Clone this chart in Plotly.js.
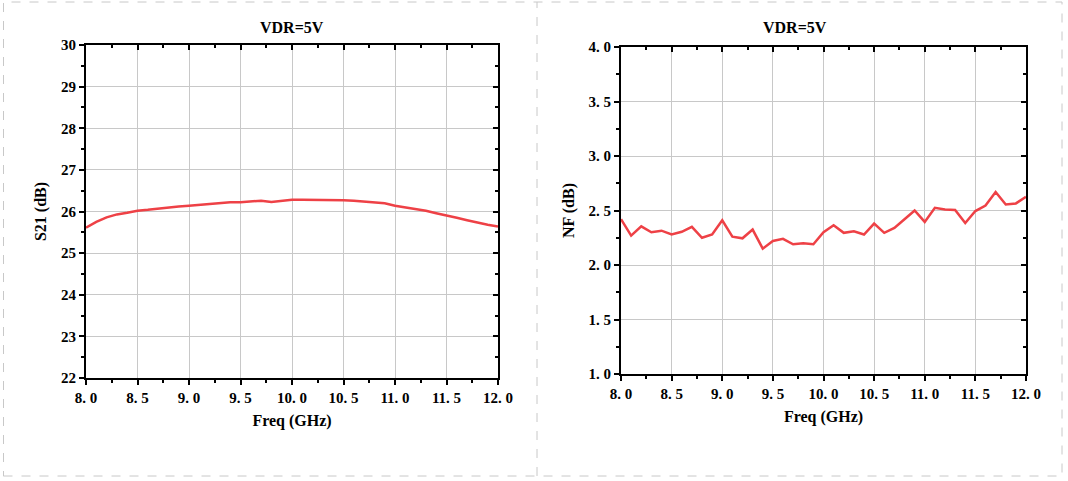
<!DOCTYPE html>
<html>
<head>
<meta charset="utf-8">
<script src="https://cdn.plot.ly/plotly-3.0.1.min.js"></script>
<style>
  html, body { margin: 0; padding: 0; background: #fff; }
  #chart { width: 1068px; height: 481px; }
</style>
</head>
<body>
<div id="chart"></div>
<script>
// frequency points, 8 to 12 GHz in 0.1 GHz steps
var freq = [8.0, 8.1, 8.2, 8.3, 8.4, 8.5, 8.6, 8.7, 8.8, 8.9,
            9.0, 9.1, 9.2, 9.3, 9.4, 9.5, 9.6, 9.7, 9.8, 9.9,
            10.0, 10.1, 10.2, 10.3, 10.4, 10.5, 10.6, 10.7, 10.8, 10.9,
            11.0, 11.1, 11.2, 11.3, 11.4, 11.5, 11.6, 11.7, 11.8, 11.9, 12.0];

var s21 = [25.61, 25.75, 25.86, 25.93, 25.97, 26.02, 26.04, 26.07, 26.09, 26.12,
           26.14, 26.16, 26.18, 26.20, 26.22, 26.22, 26.24, 26.26, 26.23, 26.26,
           26.28, 26.28, 26.28, 26.27, 26.27, 26.27, 26.26, 26.24, 26.23, 26.20,
           26.14, 26.10, 26.06, 26.02, 25.96, 25.91, 25.85, 25.79, 25.73, 25.68, 25.64];

var nf = [2.42, 2.27, 2.355, 2.30, 2.315, 2.28, 2.305, 2.35, 2.25, 2.28,
          2.41, 2.26, 2.245, 2.325, 2.15, 2.22, 2.24, 2.19, 2.20, 2.19,
          2.30, 2.365, 2.295, 2.31, 2.28, 2.38, 2.295, 2.34, 2.42, 2.50,
          2.395, 2.525, 2.51, 2.505, 2.385, 2.495, 2.545, 2.67, 2.555, 2.565, 2.625];

var freqTicks = [8, 8.5, 9, 9.5, 10, 10.5, 11, 11.5, 12];
var freqLabels = ['8. 0', '8. 5', '9. 0', '9. 5', '10. 0', '10. 5', '11. 0', '11. 5', '12. 0'];
var s21Ticks = [22, 23, 24, 25, 26, 27, 28, 29, 30];
var nfTicks = [1, 1.5, 2, 2.5, 3, 3.5, 4];
var nfLabels = ['1. 0', '1. 5', '2. 0', '2. 5', '3. 0', '3. 5', '4. 0'];

var serif = 'Liberation Serif, Times New Roman, serif';
var red = '#ee4146';

var tickFont = {family: serif, size: 15, color: '#000', weight: 'bold'};
var titleFont = {family: serif, size: 16, color: '#000', weight: 'bold'};

function mainAxis(extra) {
  var a = {
    showline: true, linecolor: '#000', linewidth: 2,
    ticks: 'outside', ticklen: 5, tickwidth: 2, tickcolor: '#000',
    showgrid: true, gridcolor: '#c8c8c8', gridwidth: 1,
    zeroline: false, tickfont: tickFont, fixedrange: true
  };
  return Object.assign(a, extra);
}

function mirrorAxis(extra) {
  var a = {
    showline: true, linecolor: '#000', linewidth: 2,
    ticks: 'inside', ticklen: 5, tickwidth: 2, tickcolor: '#000',
    showgrid: false, zeroline: false, showticklabels: false, fixedrange: true
  };
  return Object.assign(a, extra);
}

function minorTicks(step, dir) {
  return {dtick: step, ticks: dir, ticklen: 3, tickwidth: 2, tickcolor: '#000', showgrid: false};
}

var lineStyle = {color: red, width: 2.5};

var data = [
  {x: freq, y: s21, type: 'scatter', mode: 'lines', line: lineStyle,
   xaxis: 'x', yaxis: 'y', hoverinfo: 'x+y'},
  {x: freq, y: nf, type: 'scatter', mode: 'lines', line: lineStyle,
   xaxis: 'x2', yaxis: 'y2', hoverinfo: 'x+y'},
  // empty traces so the top/right frame axes get drawn
  {x: [], y: [], type: 'scatter', xaxis: 'x3', yaxis: 'y3', hoverinfo: 'skip'},
  {x: [], y: [], type: 'scatter', xaxis: 'x4', yaxis: 'y4', hoverinfo: 'skip'}
];

var leftX = [86 / 1068, 498 / 1068];
var leftY = [1 - 378 / 481, 1 - 45 / 481];
var rightX = [621 / 1068, 1026 / 1068];
var rightY = [1 - 374 / 481, 1 - 47 / 481];

var layout = {
  width: 1068, height: 481,
  margin: {l: 0, r: 0, t: 0, b: 0},
  paper_bgcolor: '#fff', plot_bgcolor: '#fff',
  showlegend: false,

  xaxis: mainAxis({domain: leftX, anchor: 'y', range: [8, 12],
    tickvals: freqTicks, ticktext: freqLabels, minor: minorTicks(0.25, 'outside'),
    title: {text: 'Freq (GHz)', font: titleFont, standoff: 10}}),
  yaxis: mainAxis({domain: leftY, anchor: 'x', range: [22, 30],
    tickvals: s21Ticks, minor: minorTicks(0.5, 'outside'),
    title: {text: 'S21 (dB)', font: titleFont, standoff: 10}}),
  xaxis3: mirrorAxis({overlaying: 'x', side: 'top', anchor: 'y', range: [8, 12],
    tickvals: freqTicks, minor: minorTicks(0.25, 'inside')}),
  yaxis3: mirrorAxis({overlaying: 'y', side: 'right', anchor: 'x', range: [22, 30],
    tickvals: s21Ticks, minor: minorTicks(0.5, 'inside')}),

  xaxis2: mainAxis({domain: rightX, anchor: 'y2', range: [8, 12],
    tickvals: freqTicks, ticktext: freqLabels, minor: minorTicks(0.25, 'outside'),
    title: {text: 'Freq (GHz)', font: titleFont, standoff: 10}}),
  yaxis2: mainAxis({domain: rightY, anchor: 'x2', range: [1, 4],
    tickvals: nfTicks, ticktext: nfLabels, minor: minorTicks(0.25, 'outside'),
    title: {text: 'NF (dB)', font: titleFont, standoff: 10}}),
  xaxis4: mirrorAxis({overlaying: 'x2', side: 'top', anchor: 'y2', range: [8, 12],
    tickvals: freqTicks, minor: minorTicks(0.25, 'inside')}),
  yaxis4: mirrorAxis({overlaying: 'y2', side: 'right', anchor: 'x2', range: [1, 4],
    tickvals: nfTicks, minor: minorTicks(0.25, 'inside')}),

  annotations: [
    {text: 'VDR=5V', xref: 'paper', yref: 'paper', x: 292 / 1068, y: 1 - 27 / 481,
     xanchor: 'center', yanchor: 'middle', showarrow: false, font: titleFont},
    {text: 'VDR=5V', xref: 'paper', yref: 'paper', x: 795 / 1068, y: 1 - 27 / 481,
     xanchor: 'center', yanchor: 'middle', showarrow: false, font: titleFont}
  ],

  shapes: [
    {type: 'rect', xref: 'paper', yref: 'paper',
     x0: 3.5 / 1068, x1: 1062 / 1068, y0: 1 - 476 / 481, y1: 1 - 2 / 481,
     line: {color: '#c8c8c8', width: 1, dash: 'dash'}},
    {type: 'line', xref: 'paper', yref: 'paper',
     x0: 537 / 1068, x1: 537 / 1068, y0: 1 - 476 / 481, y1: 1 - 2 / 481,
     line: {color: '#c8c8c8', width: 1, dash: 'dash'}}
  ]
};

Plotly.newPlot('chart', data, layout, {displayModeBar: false, staticPlot: true});
</script>
</body>
</html>
